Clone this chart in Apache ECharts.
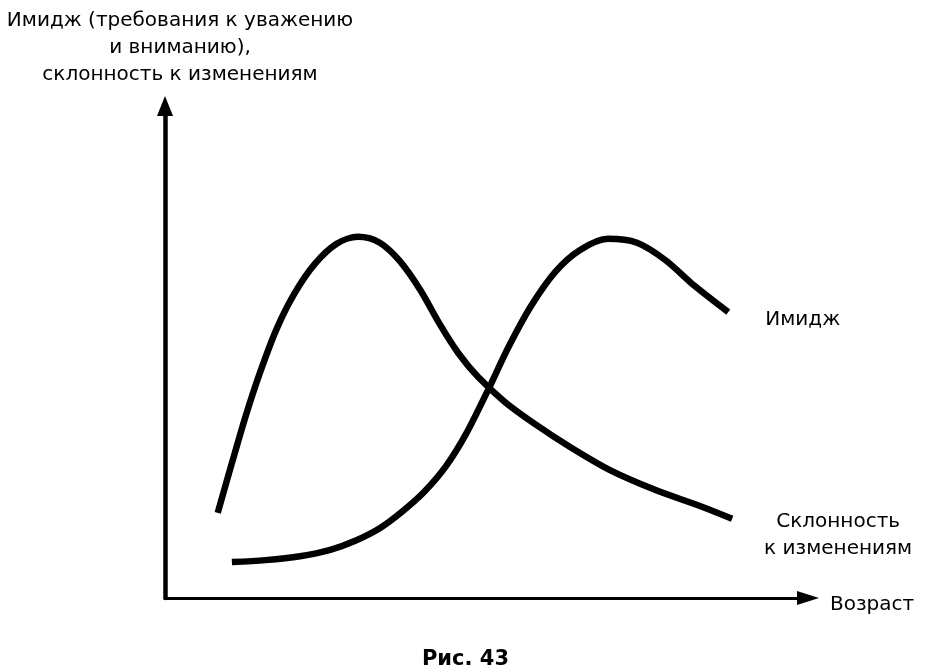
<!DOCTYPE html>
<html>
<head>
<meta charset="utf-8">
<script src="https://cdn.jsdelivr.net/npm/echarts@6/dist/echarts.min.js"></script>
<style>html,body{margin:0;padding:0;background:#fff}#c{width:931px;height:672px}</style>
</head>
<body>
<div id="c"></div>
<script>
// Склонность к изменениям (early peak)
var ageChange = [8.2, 10.4, 12.6, 14.8, 17.3, 20.1, 23.3, 26.7, 30.0, 33.4, 36.5, 39.7, 42.8, 45.6, 48.7, 52.9, 57.5, 63.0, 69.2, 76.2, 83.2, 88.2];
var valChange = [17.3, 27.4, 37.2, 45.9, 54.5, 61.8, 67.9, 72.0, 73.4, 72.2, 68.5, 62.6, 55.5, 49.8, 44.9, 39.8, 35.4, 30.7, 26.0, 22.0, 18.7, 16.1];
// Имидж (late peak)
var ageImage = [10.4, 15.6, 21.0, 25.7, 29.5, 33.4, 37.0, 40.4, 43.7, 46.8, 50.1, 53.5, 56.9, 60.7, 64.5, 68.9, 73.4, 77.8, 82.4, 87.6];
var valImage = [7.3, 7.7, 8.5, 9.8, 11.6, 14.2, 17.7, 21.7, 26.8, 33.3, 41.9, 51.2, 59.3, 66.3, 70.7, 73.0, 72.2, 68.7, 63.4, 58.1];

var yAxisName = 'Имидж (требования к уважению\nи вниманию),\nсклонность к изменениям';
var xAxisName = 'Возраст';
var nameImage = 'Имидж';
var nameChange = 'Склонность\nк изменениям';
var caption = 'Рис. 43';

function pairs(xs, ys) { return xs.map(function (x, i) { return [x, ys[i]]; }); }

var font = 'DejaVu Sans, Liberation Sans, Arial, sans-serif';
var chart = echarts.init(document.getElementById('c'), null, {renderer: 'canvas'});
chart.setOption({
  backgroundColor: '#fff',
  animation: false,
  title: {
    text: caption, left: 'center', top: 644,
    textStyle: {fontFamily: font, fontSize: 21, fontWeight: 'bold', color: '#000'}
  },
  grid: {left: 165, right: 123, top: 106, bottom: 74, outerBoundsMode: 'none', containLabel: false},
  xAxis: {
    type: 'value', min: 0, max: 100,
    name: xAxisName, nameLocation: 'end', nameGap: 22,
    nameTextStyle: {fontFamily: font, fontSize: 20, color: '#000', verticalAlign: 'top', lineHeight: 14},
    axisLine: {show: true, symbol: ['none', 'triangle'], symbolSize: [14, 22], lineStyle: {color: '#000', width: 3}},
    axisTick: {show: false}, axisLabel: {show: false}, splitLine: {show: false}
  },
  yAxis: {
    type: 'value', min: 0, max: 100,
    name: yAxisName, nameLocation: 'end', nameGap: 18,
    nameTextStyle: {fontFamily: font, fontSize: 20, lineHeight: 27, color: '#000', align: 'center', padding: [0, 0, 0, 30]},
    axisLine: {show: true, symbol: ['none', 'triangle'], symbolSize: [16, 20], lineStyle: {color: '#000', width: 4.5}},
    axisTick: {show: false}, axisLabel: {show: false}, splitLine: {show: false}
  },
  series: [
    {
      name: nameChange, type: 'line', smooth: 0.3, symbol: 'none',
      data: pairs(ageChange, valChange),
      lineStyle: {color: '#000', width: 6.5},
      endLabel: {show: true, formatter: nameChange, fontFamily: font, fontSize: 20, lineHeight: 27, color: '#000',
        align: 'center', distance: 0, offset: [106, 17]}
    },
    {
      name: nameImage, type: 'line', smooth: 0.3, symbol: 'none',
      data: pairs(ageImage, valImage),
      lineStyle: {color: '#000', width: 6.5},
      endLabel: {show: true, formatter: nameImage, fontFamily: font, fontSize: 20, color: '#000',
        distance: 37, offset: [0, 8]}
    }
  ]
});
</script>
</body>
</html>
